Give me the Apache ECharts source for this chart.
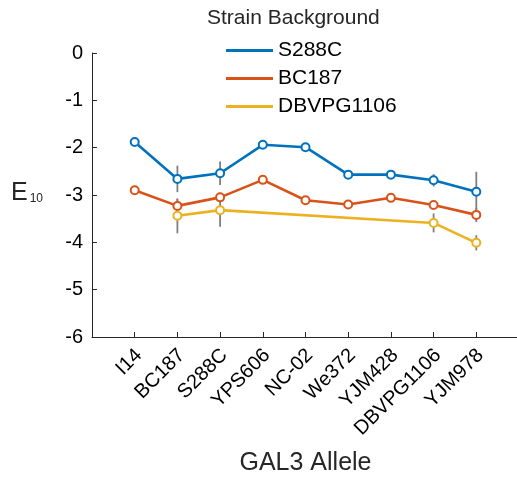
<!DOCTYPE html>
<html>
<head>
<meta charset="utf-8">
<script src="https://cdn.jsdelivr.net/npm/echarts@6/dist/echarts.min.js"></script>
<style>html,body{margin:0;padding:0;background:#fff}#c{width:517px;height:479px}</style>
</head>
<body>
<div id="c"></div>
<script>
var categories = ['I14','BC187','S288C','YPS606','NC-02','We372','YJM428','DBVPG1106','YJM978'];
var yTicks = [-6,-5,-4,-3,-2,-1,0];
var s288cVals = [-1.88,-2.66,-2.54,-1.94,-1.99,-2.57,-2.57,-2.69,-2.93];
var s288cErr  = [0.05,0.28,0.25,0.05,0.08,0.05,0.05,0.13,0.42];
var bc187Vals = [-2.90,-3.23,-3.05,-2.68,-3.11,-3.20,-3.06,-3.21,-3.42];
var bc187Err  = [0.04,0.14,0.10,0.05,0.05,0.06,0.05,0.06,0.15];
var dbvCats   = ['BC187','S288C','DBVPG1106','YJM978'];
var dbvVals   = [-3.44,-3.32,-3.59,-4.01];
var dbvErr    = [0.37,0.35,0.20,0.16];

var COLORS = {S288C:'#0072BD', BC187:'#D95319', DBVPG1106:'#EDB120'};
function idx(c){ return categories.indexOf(c) + 1; }
function pts(cats, vals){ return cats.map(function(c,i){ return [idx(c), vals[i]]; }); }
function errs(cats, vals, e){ return cats.map(function(c,i){ return [idx(c), vals[i]-e[i], vals[i]+e[i]]; }); }
var catPositions = categories.map(function(c){ return idx(c); });

function errSeries(data){
  return {
    type:'custom', silent:true, z:1,
    renderItem:function(params, api){
      var a = api.coord([api.value(0), api.value(1)]);
      var b = api.coord([api.value(0), api.value(2)]);
      return {type:'line', shape:{x1:a[0],y1:a[1],x2:b[0],y2:b[1]},
        style:{stroke:'#7f7f7f', lineWidth:1.8}};
    },
    encode:{x:0, y:[1,2]},
    data:data
  };
}
function lineSeries(name, data){
  return {
    name:name, type:'line', z:3, data:data,
    symbol:'emptyCircle', symbolSize:8, showSymbol:true,
    lineStyle:{color:COLORS[name], width:2.6},
    itemStyle:{color:COLORS[name], borderWidth:2},
    emphasis:{disabled:true}
  };
}

var chart = echarts.init(document.getElementById('c'), null, {renderer:'canvas'});
var font = 'Liberation Sans, Helvetica, Arial, sans-serif';
chart.setOption({
  animation:false,
  backgroundColor:'#fff',
  textStyle:{fontFamily:font},
  title:{text:'Strain Background', left:202, top:3,
    textStyle:{fontSize:21, fontWeight:'normal', color:'#262626', fontFamily:font}},
  legend:{
    orient:'vertical', left:221, top:35, itemGap:7,
    itemWidth:47, itemHeight:3, icon:'rect',
    textStyle:{fontSize:21, color:'#000', fontFamily:font},
    data:[
      {name:'S288C', itemStyle:{color:COLORS.S288C}},
      {name:'BC187', itemStyle:{color:COLORS.BC187}},
      {name:'DBVPG1106', itemStyle:{color:COLORS.DBVPG1106}}
    ]
  },
  grid:{left:92, top:53, right:-2, bottom:142, containLabel:false, outerBoundsMode:'none'},
  xAxis:{
    type:'value', min:0, max:10, interval:1,
    name:'GAL3 Allele', nameLocation:'middle', nameGap:114,
    nameTextStyle:{fontSize:25, color:'#262626', fontFamily:font},
    axisLine:{show:true, onZero:false, lineStyle:{color:'#262626', width:1}},
    axisTick:{show:true, inside:true, length:5, lineStyle:{color:'#262626'}, customValues:catPositions},
    splitLine:{show:false},
    axisLabel:{rotate:45, fontSize:20, color:'#000', margin:11, fontFamily:font,
      align:'right', verticalAlign:'top', lineHeight:12,
      customValues:catPositions,
      formatter:function(v){ return categories[v-1] || ''; }}
  },
  yAxis:{
    type:'value', min:yTicks[0], max:yTicks[yTicks.length-1], interval:1,
    axisLine:{show:true, lineStyle:{color:'#262626', width:1}},
    axisTick:{show:true, inside:true, length:5, lineStyle:{color:'#262626'}},
    splitLine:{show:false},
    axisLabel:{fontSize:20, color:'#000', margin:9, fontFamily:font,
      formatter:function(v){ return String(v); }}
  },
  graphic:[{
    type:'text', left:11, top:181,
    style:{text:'{e|E}{s|10}', rich:{
      e:{fontSize:25, lineHeight:26, fill:'#262626', fontFamily:font, verticalAlign:'bottom'},
      s:{fontSize:12, lineHeight:13, fill:'#262626', fontFamily:font, verticalAlign:'bottom', padding:[0,0,1,2]}
    }}
  }],
  series:[
    errSeries(errs(categories, s288cVals, s288cErr)),
    errSeries(errs(categories, bc187Vals, bc187Err)),
    errSeries(errs(dbvCats, dbvVals, dbvErr)),
    lineSeries('S288C', pts(categories, s288cVals)),
    lineSeries('BC187', pts(categories, bc187Vals)),
    lineSeries('DBVPG1106', pts(dbvCats, dbvVals))
  ]
});
</script>
</body>
</html>
